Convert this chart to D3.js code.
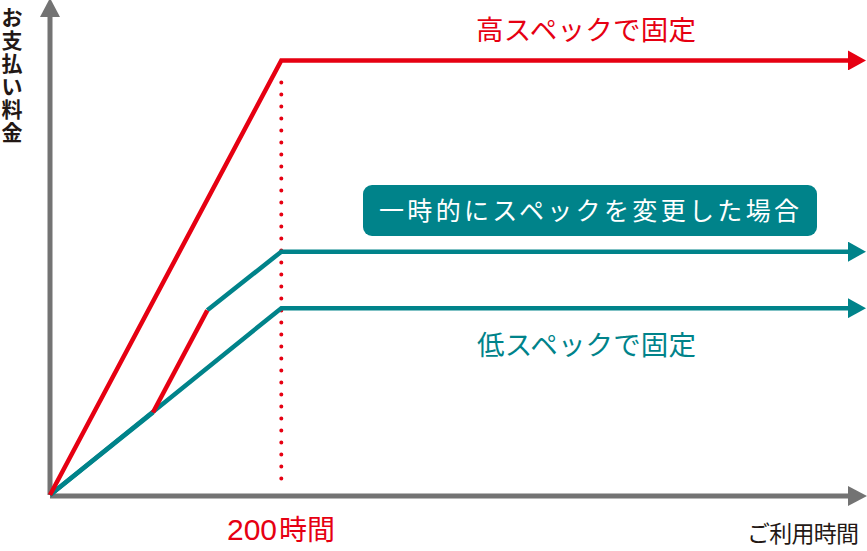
<!DOCTYPE html>
<html><head><meta charset="utf-8">
<script src="https://cdn.jsdelivr.net/npm/d3@7/dist/d3.min.js"></script>
<style>
html,body{margin:0;padding:0;background:#fff;}
svg{display:block;font-family:"Noto Sans CJK JP","Noto Sans",sans-serif;}
</style></head>
<body>
<svg id="c" width="867" height="551"></svg>
<script>
// ---- data (hours, cost units) ----
const axisMaxHours = 690;
const axisMaxCost = 110;
const switchHour = 200;
const highSpec = [[0,0],[200,100],[690,100]];
const lowSpec = [[0,0],[200,43],[690,43]];
const changedLow1 = [[0,0],[89,19]];
const changedHigh = [[89,19],[136,42.5]];
const changedLow2 = [[136,42.5],[200,56],[690,56]];
const labels = {
  high: "高スペックで固定",
  low: "低スペックで固定",
  changed: "一時的にスペックを変更した場合",
  yAxis: "お支払い料金",
  xAxis: "ご利用時間",
  tickNum: "200",
  tickUnit: "時間"
};

const RED = "#e60012", TEAL = "#00838a", GRAY = "#737373", DARK = "#231815";
const svg = d3.select("#c");
const x = d3.scaleLinear().domain([0, axisMaxHours]).range([50, 848]);
const y = d3.scaleLinear().domain([0, axisMaxCost]).range([495, 17]);
const line = d3.line().x(d => x(d[0])).y(d => y(d[1]));

const defs = svg.append("defs");
function marker(id, color, len, half) {
  defs.append("marker").attr("id", id).attr("markerUnits", "userSpaceOnUse")
    .attr("viewBox", `0 ${-half} ${len} ${2*half}`).attr("refX", 0).attr("refY", 0)
    .attr("markerWidth", len).attr("markerHeight", 2*half).attr("orient", "auto")
    .append("path").attr("d", `M0,${-half}L${len},0L0,${half}Z`).attr("fill", color);
}
marker("aRed", RED, 18, 10);
marker("aTeal", TEAL, 18, 10);
marker("aGray", GRAY, 19, 10);

// axes
svg.append("path").attr("d", line([[0,0],[axisMaxHours,0]]))
  .attr("transform", "translate(0,1)")
  .attr("stroke", GRAY).attr("stroke-width", 5).attr("fill", "none")
  .attr("marker-end", "url(#aGray)");
svg.append("path").attr("d", line([[0,0],[0,axisMaxCost]]))
  .attr("stroke", GRAY).attr("stroke-width", 5).attr("fill", "none")
  .attr("marker-end", "url(#aGray)");

// dotted vertical at 200h
svg.append("line").attr("x1", x(switchHour)).attr("x2", x(switchHour))
  .attr("y1", y(100) + 22).attr("y2", y(0) - 16)
  .attr("stroke", RED).attr("stroke-width", 4).attr("stroke-linecap", "round")
  .attr("stroke-dasharray", "0 12");

function drawLine(data, color, arrow) {
  const p = svg.append("path").attr("d", line(data)).attr("fill", "none")
    .attr("stroke", color).attr("stroke-width", 4.5).attr("stroke-linejoin", "miter");
  if (arrow) p.attr("marker-end", `url(#${arrow})`);
}
drawLine(lowSpec, TEAL, "aTeal");
drawLine(changedLow1, TEAL);
drawLine(changedLow2, TEAL, "aTeal");
drawLine(changedHigh, RED);
drawLine(highSpec, RED, "aRed");

// labels
svg.append("text").attr("x", 476).attr("y", 40).attr("fill", RED)
  .attr("font-size", 27.5).attr("textLength", 220).attr("lengthAdjust", "spacing").text(labels.high);
svg.append("text").attr("x", 477).attr("y", 355).attr("fill", TEAL)
  .attr("font-size", 27.5).attr("textLength", 219).attr("lengthAdjust", "spacing").text(labels.low);

svg.append("rect").attr("x", 363).attr("y", 185).attr("width", 454).attr("height", 51)
  .attr("rx", 9).attr("fill", TEAL);
svg.append("text").attr("x", 379).attr("y", 220).attr("fill", "#fff")
  .attr("font-size", 25).attr("textLength", 420).attr("lengthAdjust", "spacing").text(labels.changed);

const tk = svg.append("text").attr("x", 227).attr("y", 540).attr("fill", RED);
tk.append("tspan").attr("font-family", "'Liberation Sans',Arial,sans-serif").attr("font-size", 30).text(labels.tickNum);
tk.append("tspan").attr("font-size", 28).attr("dx", 2).text(labels.tickUnit);

svg.append("text").attr("x", 747).attr("y", 542).attr("fill", DARK)
  .attr("font-size", 23).attr("textLength", 112).attr("lengthAdjust", "spacing").text(labels.xAxis);

const yl = svg.append("text").attr("fill", DARK).attr("font-size", 21).attr("font-weight", "bold")
  .attr("text-anchor", "middle");
Array.from(labels.yAxis).forEach((ch, i) => {
  yl.append("tspan").attr("x", 12).attr("y", 25 + i * 23).text(ch);
});
</script>
</body></html>
